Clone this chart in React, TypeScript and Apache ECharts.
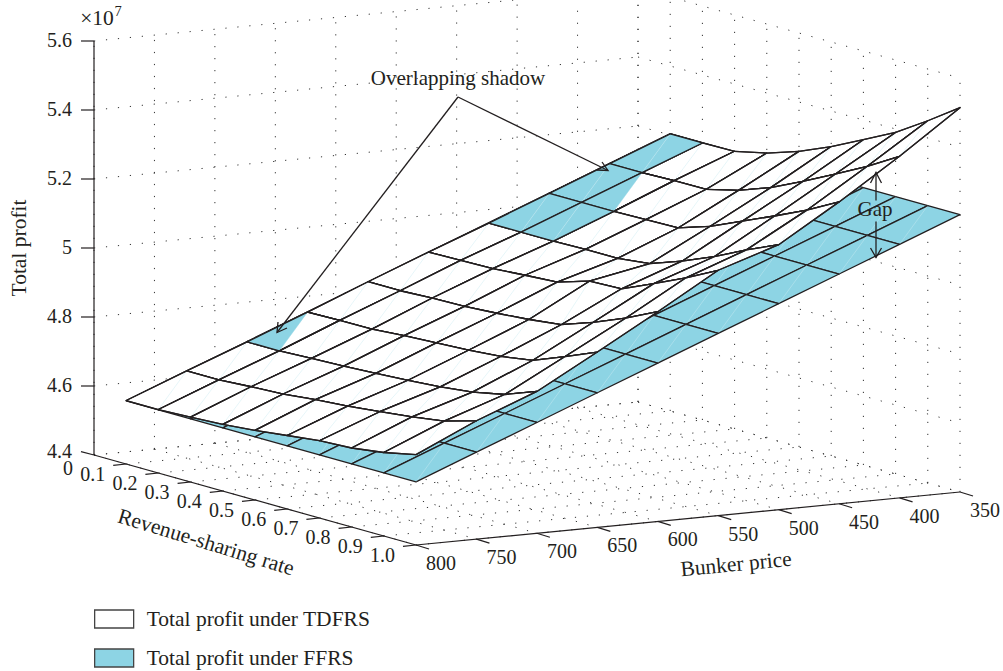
import React, { useEffect, useRef } from "react";
import * as echarts from "echarts";

// Axis ticks
const bunkerPrices = [800, 750, 700, 650, 600, 550, 500, 450, 400, 350];
const rateTicks = [0, 0.1, 0.2, 0.3, 0.4, 0.5, 0.6, 0.7, 0.8, 0.9, 1.0];
const rateTickLabels = ["0", "0.1", "0.2", "0.3", "0.4", "0.5", "0.6", "0.7", "0.8", "0.9", "1.0"];
const profitTicks = [4.4, 4.6, 4.8, 5.0, 5.2, 5.4, 5.6];
const profitTickLabels = ["4.4", "4.6", "4.8", "5", "5.2", "5.4", "5.6"];

// Surface sample positions
const surfaceRates = [0.1, 0.2, 0.3, 0.4, 0.5, 0.6, 0.7, 0.8, 0.9, 1.0];

// Total profit (x 10^7): FFRS does not vary with the rate, one value per bunker price
const ffrsProfit = [4.583, 4.652, 4.721, 4.79, 4.859, 4.928, 4.997, 5.066, 5.135, 5.204];

// Total profit (x 10^7): TDFRS, one row per bunker price, one column per rate
const tdfrsProfit = [
  [4.584, 4.584, 4.588, 4.593, 4.602, 4.613, 4.624, 4.629, 4.642, 4.662],
  [4.653, 4.653, 4.659, 4.664, 4.674, 4.681, 4.691, 4.702, 4.716, 4.743],
  [4.72, 4.72, 4.724, 4.728, 4.733, 4.739, 4.746, 4.757, 4.776, 4.811],
  [4.789, 4.791, 4.792, 4.799, 4.804, 4.809, 4.817, 4.832, 4.869, 4.908],
  [4.86, 4.86, 4.865, 4.867, 4.873, 4.881, 4.892, 4.925, 4.963, 5.008],
  [4.929, 4.931, 4.933, 4.94, 4.946, 4.975, 4.979, 5.02, 5.063, 5.111],
  [4.996, 4.996, 4.996, 4.998, 4.998, 5.009, 5.042, 5.081, 5.127, 5.168],
  [5.065, 5.065, 5.065, 5.067, 5.069, 5.1, 5.141, 5.182, 5.225, 5.275],
  [5.134, 5.134, 5.137, 5.138, 5.161, 5.195, 5.239, 5.286, 5.335, 5.39],
  [5.203, 5.203, 5.205, 5.226, 5.257, 5.297, 5.343, 5.39, 5.45, 5.514],
];

const FONT = "'Liberation Serif', serif";
const INK = "#231f20";
const BLUE = "#8dd4e4";

// Orthographic view of the 3-D box, in plot units of the hidden 2-D axes
function project(bunker: number, rate: number, profit: number): number[] {
  const u = (800 - bunker) / 450;
  return [94 + 322 * rate + 544 * u, 455 + 90 * rate - 53 * u - 345 * (profit - 4.4)];
}

const ffPoint = (i: number, j: number) => project(bunkerPrices[j], surfaceRates[i], ffrsProfit[j]);
const tdPoint = (i: number, j: number) => project(bunkerPrices[j], surfaceRates[i], tdfrsProfit[j][i]);
const ffOnTop = (i: number, j: number) => tdfrsProfit[j][i] <= ffrsProfit[j];

// Back-to-front cell order
const cells: number[][] = [];
for (let i = 0; i < surfaceRates.length - 1; i++) {
  for (let j = bunkerPrices.length - 2; j >= 0; j--) cells.push([i, j]);
}

const lowerTriangle = (i: number, j: number) => [[i, j], [i + 1, j], [i, j + 1]];
const upperTriangle = (i: number, j: number) => [[i + 1, j], [i + 1, j + 1], [i, j + 1]];
const triangleOnTop = (t: number[][]) => t.every(([a, b]) => ffOnTop(a, b));
const overlapCells = cells.filter(
  ([i, j]) => triangleOnTop(lowerTriangle(i, j)) || triangleOnTop(upperTriangle(i, j)),
);

function App() {
  const ref = useRef<HTMLDivElement>(null);
  useEffect(() => {
    const chart = echarts.init(ref.current!, null, { renderer: "svg" });

    const poly = (api: any, pts: number[][], style: any) => ({
      type: "polygon",
      silent: true,
      shape: { points: pts.map((p) => api.coord(p)) },
      style,
    });
    const seg = (api: any, a: number[], b: number[], style: any) => {
      const p = api.coord(a);
      const q = api.coord(b);
      return { type: "line", silent: true, shape: { x1: p[0], y1: p[1], x2: q[0], y2: q[1] }, style };
    };
    const label = (api: any, at: number[], text: string, align: string) => {
      const p = api.coord(at);
      return {
        type: "text",
        silent: true,
        x: p[0],
        y: p[1],
        style: {
          text,
          fill: INK,
          fontFamily: FONT,
          fontSize: 20,
          lineHeight: 17,
          textAlign: align,
          align,
          textVerticalAlign: "middle",
          verticalAlign: "middle",
        },
      };
    };

    const renderBox = (_: any, api: any) => {
      const children: any[] = [];
      const dot = { stroke: "#333", lineWidth: 1, lineDash: [1.2, 10.8], fill: null };
      const solid = { stroke: INK, lineWidth: 1.2, fill: null };
      const zMin = profitTicks[0];
      const zMax = profitTicks[profitTicks.length - 1];
      const bFront = bunkerPrices[0];
      const bBack = bunkerPrices[bunkerPrices.length - 1];
      profitTicks.forEach((z) => {
        children.push(seg(api, project(bFront, 0, z), project(bBack, 0, z), dot));
        children.push(seg(api, project(bBack, 0, z), project(bBack, 1, z), dot));
      });
      bunkerPrices.forEach((b) => {
        children.push(seg(api, project(b, 0, zMin), project(b, 0, zMax), dot));
        children.push(seg(api, project(b, 0, zMin), project(b, 1, zMin), dot));
      });
      rateTicks.forEach((r) => {
        children.push(seg(api, project(bBack, r, zMin), project(bBack, r, zMax), dot));
        children.push(seg(api, project(bFront, r, zMin), project(bBack, r, zMin), dot));
      });
      // Axis lines
      children.push(seg(api, project(bFront, 0, zMin), project(bFront, 0, zMax), solid));
      children.push(seg(api, project(bFront, 0, zMin), project(bFront, 1, zMin), solid));
      children.push(seg(api, project(bFront, 1, zMin), project(bBack, 1, zMin), solid));
      // Ticks and labels
      profitTicks.forEach((z, k) => {
        const p = project(bFront, 0, z);
        const end = k === 0 ? [p[0] - 13, p[1] - 3.4] : [p[0] - 13, p[1]];
        children.push(seg(api, p, end, solid));
        children.push(label(api, [72, p[1] - (k === 0 ? 4 : 1)], profitTickLabels[k], "right"));
      });
      rateTicks.forEach((r, k) => {
        const p = project(bFront, r, zMin);
        if (k > 0) children.push(seg(api, p, [p[0] - 13, p[1] + 1.3], solid));
        children.push(label(api, [p[0] - 21, p[1] + (k === 0 ? 13 : 10)], rateTickLabels[k], "right"));
      });
      bunkerPrices.forEach((b) => {
        const p = project(b, 1, zMin);
        children.push(seg(api, p, [p[0] + 13, p[1] + 4], solid));
        children.push(label(api, [p[0] + 25, p[1] + 18], String(b), "center"));
      });
      return { type: "group", children };
    };

    const meshStroke = { stroke: "#231f20", lineWidth: 1.3, lineJoin: "round" };

    const renderFF = (params: any, api: any) => {
      const [i, j] = cells[params.dataIndex];
      const a = ffPoint(i, j);
      const b = ffPoint(i + 1, j);
      const c = ffPoint(i + 1, j + 1);
      const d = ffPoint(i, j + 1);
      return {
        type: "group",
        children: [
          poly(api, [a, b, c, d], { fill: BLUE, ...meshStroke }),
          seg(api, b, d, { stroke: "rgba(255,255,255,0.4)", lineWidth: 0.6 }),
        ],
      };
    };

    const renderTD = (params: any, api: any) => {
      const [i, j] = cells[params.dataIndex];
      const a = tdPoint(i, j);
      const b = tdPoint(i + 1, j);
      const c = tdPoint(i + 1, j + 1);
      const d = tdPoint(i, j + 1);
      return {
        type: "group",
        children: [
          poly(api, [a, b, c, d], { fill: "#fff", ...meshStroke }),
          seg(api, b, d, { stroke: "rgba(120,205,220,0.3)", lineWidth: 0.6 }),
          poly(api, [a, b, c, d], { fill: null, ...meshStroke }),
        ],
      };
    };

    const renderOverlap = (params: any, api: any) => {
      const [i, j] = overlapCells[params.dataIndex];
      const children: any[] = [];
      [lowerTriangle(i, j), upperTriangle(i, j)].forEach((t) => {
        if (triangleOnTop(t)) {
          children.push(poly(api, t.map(([a, b]) => tdPoint(a, b)), { fill: BLUE, stroke: BLUE, lineWidth: 0.3 }));
        }
      });
      if (children.length === 2) {
        children.push(seg(api, tdPoint(i + 1, j), tdPoint(i, j + 1), { stroke: "rgba(255,255,255,0.4)", lineWidth: 0.6 }));
      }
      children.push(
        poly(api, [tdPoint(i, j), tdPoint(i + 1, j), tdPoint(i + 1, j + 1), tdPoint(i, j + 1)], { fill: null, ...meshStroke }),
      );
      return { type: "group", children };
    };

    const arrow = (tip: number[], from: number[], barbs: number[][]) => [
      { type: "line", silent: true, shape: { x1: from[0], y1: from[1], x2: tip[0], y2: tip[1] }, style: { stroke: INK, lineWidth: 1.3 } },
      {
        type: "polyline",
        silent: true,
        shape: { points: [barbs[0], tip, barbs[1]] },
        style: { stroke: INK, lineWidth: 1.3, fill: null },
      },
    ];
    const text = (x: number, y: number, t: string, size = 20, rotation = 0, align = "center") => ({
      type: "text",
      silent: true,
      x,
      y,
      rotation,
      style: {
        text: t,
        fill: INK,
        fontFamily: FONT,
        fontSize: size,
        textAlign: align,
        align,
        textVerticalAlign: "middle",
        verticalAlign: "middle",
      },
    });

    const legendBase = {
      show: true,
      orient: "horizontal",
      left: 89,
      itemWidth: 39,
      itemHeight: 18,
      selectedMode: false,
      icon: "rect",
      itemStyle: { borderColor: "#444", borderWidth: 1.3 },
      textStyle: { fontFamily: FONT, fontSize: 21.5, color: INK, padding: [0, 0, 3, 8] },
    };

    chart.setOption({
      animation: false,
      backgroundColor: "#fff",
      grid: { left: 0, right: 0, top: 0, bottom: 0 },
      xAxis: { type: "value", min: 0, max: 1003, show: false },
      yAxis: { type: "value", min: 0, max: 671, inverse: true, show: false },
      legend: [
        { ...legendBase, top: 603, data: ["Total profit under TDFRS"] },
        { ...legendBase, top: 642, data: ["Total profit under FFRS"] },
      ],
      series: [
        { type: "custom", name: "box", coordinateSystem: "cartesian2d", silent: true, data: [[0, 0]], renderItem: renderBox, z: 1 },
        {
          type: "custom",
          name: "Total profit under FFRS",
          coordinateSystem: "cartesian2d",
          silent: true,
          data: cells,
          itemStyle: { color: BLUE },
          renderItem: renderFF,
          z: 2,
        },
        {
          type: "custom",
          name: "Total profit under TDFRS",
          coordinateSystem: "cartesian2d",
          silent: true,
          data: cells,
          itemStyle: { color: "#fff" },
          renderItem: renderTD,
          z: 3,
        },
        { type: "custom", name: "overlap", coordinateSystem: "cartesian2d", silent: true, data: overlapCells, renderItem: renderOverlap, z: 4 },
      ],
      graphic: [
        text(97, 18, "×10", 21.5),
        text(118, 11, "7", 14.5),
        text(19, 248, "Total profit", 21.5, Math.PI / 2),
        text(206, 542, "Revenue-sharing rate", 21.5, (-17 * Math.PI) / 180),
        text(736, 564, "Bunker price", 21.5, (5.5 * Math.PI) / 180),
        text(458, 78, "Overlapping shadow", 21),
        text(875, 209, "Gap", 21),
        ...arrow([277, 332.5], [458, 97], [[278, 322], [287, 328]]),
        ...arrow([608, 170.5], [458, 97], [[602, 162], [597, 170]]),
        ...arrow([876, 172.5], [876, 200.5], [[870.5, 183], [881.5, 183]]),
        ...arrow([876, 257.5], [876, 221.5], [[870.5, 248], [881.5, 248]]),
      ].map((g: any) => ({ ...g, z: 10 })),
    });
    return () => chart.dispose();
  }, []);
  return <div ref={ref} style={{ position: "fixed", left: 0, top: 0, width: 1003, height: 671 }} />;
}

export default App;
